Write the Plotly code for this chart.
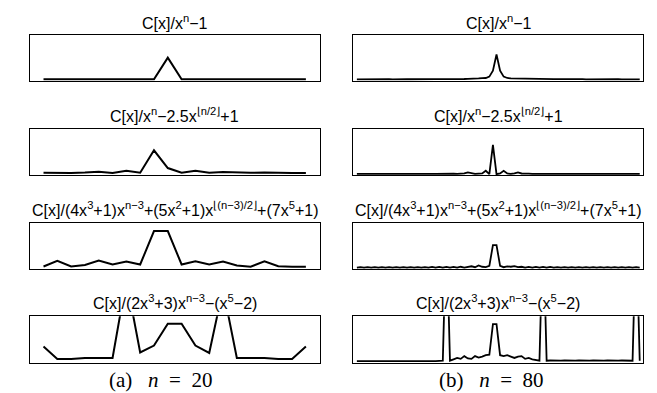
import plotly.graph_objects as go

# ── Data ─────────────────────────────────────────────────────────────────────
TITLES = [
    "C[x]/x<sup>n</sup>−1",
    "C[x]/x<sup>n</sup>−2.5x<sup>⌊n/2⌋</sup>+1",
    "C[x]/(4x<sup>3</sup>+1)x<sup>n−3</sup>+(5x<sup>2</sup>+1)x<sup>⌊(n−3)/2⌋</sup>+(7x<sup>5</sup>+1)",
    "C[x]/(2x<sup>3</sup>+3)x<sup>n−3</sup>−(x<sup>5</sup>−2)",
]
CAPTIONS = ["(a)\u00a0\u00a0\u00a0<i>n</i>\u00a0\u00a0=\u00a0\u00a020",
            "(b)\u00a0\u00a0\u00a0<i>n</i>\u00a0\u00a0=\u00a0\u00a080"]

n20_a = [0.01, 0.01, 0.01, 0.01, 0.01, 0.01, 0.01, 0.01, 0.01, 0.49,
         0.01, 0.01, 0.01, 0.01, 0.01, 0.01, 0.01, 0.01, 0.01, 0.01]
n20_b = [0.036, 0.03, 0.03, 0.04, 0.06, 0.03, 0.08, 0.036, 0.53, 0.14,
         0.036, 0.08, 0.036, 0.05, 0.036, 0.036, 0.04, 0.03, 0.03, 0.03]
n20_c = [0.036, 0.16, 0.036, 0.07, 0.17, 0.08, 0.145, 0.08, 0.82, 0.82,
         0.08, 0.15, 0.08, 0.145, 0.06, 0.03, 0.15, 0.04, 0.03, 0.03]
n20_d = [0.34, 0.07, 0.07, 0.09, 0.09, 0.09, 1.8, 0.21, 0.36, 0.84,
         0.84, 0.36, 0.2, 1.6, 0.09, 0.09, 0.09, 0.07, 0.07, 0.34]

n80_a = [0.01, 0.012, 0.01, 0.014, 0.01, 0.012, 0.01, 0.013, 0.01, 0.012,
         0.01, 0.014, 0.012, 0.01, 0.013, 0.012, 0.01, 0.014, 0.012, 0.013,
         0.012, 0.015, 0.013, 0.016, 0.014, 0.017, 0.015, 0.018, 0.016, 0.02,
         0.018, 0.022, 0.02, 0.025, 0.03, 0.035, 0.04, 0.07, 0.2, 0.56,
         0.2, 0.07, 0.04, 0.03, 0.03, 0.025, 0.02, 0.022, 0.018, 0.02,
         0.016, 0.018, 0.015, 0.017, 0.014, 0.016, 0.013, 0.015, 0.012, 0.014,
         0.012, 0.013, 0.011, 0.013, 0.01, 0.012, 0.01, 0.012, 0.01, 0.011,
         0.01, 0.011, 0.01, 0.012, 0.01, 0.011, 0.01, 0.012, 0.01, 0.01]
n80_b = [0.01, 0.012, 0.01, 0.012, 0.01, 0.013, 0.01, 0.012, 0.01, 0.012,
         0.01, 0.013, 0.01, 0.012, 0.01, 0.012, 0.01, 0.013, 0.01, 0.012,
         0.01, 0.012, 0.01, 0.013, 0.01, 0.012, 0.01, 0.015, 0.01, 0.015,
         0.02, 0.045, 0.02, 0.01, 0.015, 0.02, 0.08, 0.005, 0.65, 0.005,
         0.02, 0.08, 0.02, 0.01, 0.02, 0.045, 0.02, 0.01, 0.015, 0.01,
         0.012, 0.01, 0.013, 0.01, 0.012, 0.01, 0.012, 0.01, 0.013, 0.01,
         0.012, 0.01, 0.012, 0.01, 0.013, 0.01, 0.012, 0.01, 0.012, 0.01,
         0.013, 0.01, 0.012, 0.01, 0.012, 0.01, 0.013, 0.01, 0.012, 0.01]
n80_c = [0.01, 0.022, 0.01, 0.022, 0.01, 0.022, 0.01, 0.022, 0.01, 0.022,
         0.01, 0.022, 0.01, 0.022, 0.01, 0.022, 0.01, 0.022, 0.01, 0.022,
         0.01, 0.025, 0.01, 0.025, 0.01, 0.025, 0.01, 0.025, 0.01, 0.03,
         0.012, 0.025, 0.04, 0.02, 0.06, 0.03, 0.02, 0.05, 0.51, 0.51,
         0.05, 0.02, 0.04, 0.03, 0.045, 0.02, 0.03, 0.012, 0.025, 0.01,
         0.025, 0.01, 0.025, 0.01, 0.025, 0.01, 0.022, 0.01, 0.022, 0.01,
         0.022, 0.01, 0.022, 0.01, 0.022, 0.01, 0.022, 0.01, 0.022, 0.01,
         0.022, 0.01, 0.022, 0.01, 0.022, 0.01, 0.022, 0.01, 0.022, 0.01]
n80_d = [0.02, 0.022, 0.02, 0.025, 0.02, 0.022, 0.02, 0.025, 0.02, 0.022,
         0.02, 0.025, 0.02, 0.022, 0.02, 0.025, 0.02, 0.022, 0.02, 0.025,
         0.02, 0.022, 0.02, 0.025, 0.03, 3.0, 0.03, 0.06, 0.09, 0.07,
         0.13, 0.08, 0.07, 0.13, 0.1, 0.12, 0.15, 0.16, 0.83, 0.83,
         0.15, 0.13, 0.15, 0.12, 0.09, 0.12, 0.13, 0.07, 0.09, 0.06,
         0.04, 0.03, 3.0, 0.03, 0.035, 0.03, 0.035, 0.03, 0.035, 0.03,
         0.035, 0.03, 0.035, 0.03, 0.035, 0.03, 0.035, 0.03, 0.035, 0.03,
         0.035, 0.03, 0.035, 0.03, 0.035, 0.03, 0.035, 0.03, 3.0, 0.03]

columns = [[n20_a, n20_b, n20_c, n20_d], [n80_a, n80_b, n80_c, n80_d]]

# ── Layout geometry (pixels of the 657x393 page) ─────────────────────────────
W, H = 657, 393
COL_X = [(21.7, 311.7), (345.3, 635.3)]
ROW_Y = [(26.7, 72.7), (121, 167.3), (215, 261), (308.3, 355)]
TITLE_Y = [14, 107, 201, 294]
CAPTION_X = [152, 483]
CAPTION_Y = 372

fig = go.Figure()
layout = {}
annotations = []

k = 0
for c, series_list in enumerate(columns):
    x0, x1 = COL_X[c]
    for r, ys in enumerate(series_list):
        k += 1
        sfx = "" if k == 1 else str(k)
        y0, y1 = ROW_Y[r]
        xs = list(range(len(ys)))
        fig.add_trace(go.Scatter(
            x=xs, y=ys, mode="lines",
            line=dict(color="black", width=2 if c == 0 else 1.8),
            xaxis="x" + sfx, yaxis="y" + sfx, showlegend=False,
            hoverinfo="skip",
        ))
        axis_common = dict(showline=True, mirror=True, linecolor="black",
                           linewidth=1, showgrid=False, zeroline=False,
                           showticklabels=False, ticks="")
        layout["xaxis" + sfx] = dict(domain=[x0 / W, x1 / W],
                                     range=[-1, len(ys)],
                                     anchor="y" + sfx, **axis_common)
        layout["yaxis" + sfx] = dict(domain=[1 - y1 / H, 1 - y0 / H],
                                     range=[-0.02, 1],
                                     anchor="x" + sfx, **axis_common)
        annotations.append(dict(
            x=(x0 + x1) / 2 / W, y=1 - TITLE_Y[r] / H,
            xref="paper", yref="paper", xanchor="center", yanchor="middle",
            text=TITLES[r], showarrow=False,
            font=dict(family="Arial", size=16, color="black"),
        ))
    annotations.append(dict(
        x=CAPTION_X[c] / W, y=1 - CAPTION_Y / H,
        xref="paper", yref="paper", xanchor="center", yanchor="middle",
        text=CAPTIONS[c], showarrow=False,
        font=dict(family="Times New Roman", size=21, color="black"),
    ))

fig.update_layout(
    width=W, height=H,
    margin=dict(l=0, r=0, t=0, b=0),
    paper_bgcolor="white", plot_bgcolor="white",
    annotations=annotations,
    **layout,
)

fig.write_html("out.html")
